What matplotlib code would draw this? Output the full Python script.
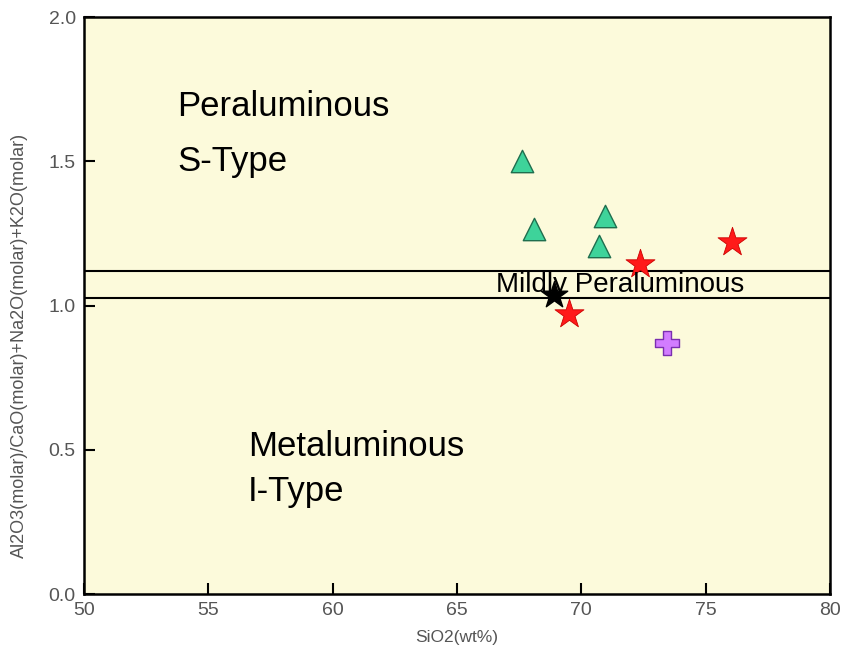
import matplotlib
matplotlib.use("Agg")
import matplotlib.pyplot as plt

# 分類境界 (A/CNK)
boundary_lower = 1.025
boundary_upper = 1.12

# 試料データ
tri_sio2 = [67.6, 68.1, 70.95, 70.7]
tri_acnk = [1.50, 1.265, 1.31, 1.205]

red_star_sio2 = [72.35, 76.05, 69.5]
red_star_acnk = [1.145, 1.22, 0.97]

black_star_sio2 = [68.9]
black_star_acnk = [1.035]

plus_sio2 = [73.45]
plus_acnk = [0.87]

x_ticks = [50, 55, 60, 65, 70, 75, 80]
y_ticks = [0.0, 0.5, 1.0, 1.5, 2.0]

plt.rcParams['font.family'] = ['Liberation Sans', 'DejaVu Sans']

fig = plt.figure(figsize=(8.41, 6.54), dpi=100)
ax = fig.add_axes([0.0999, 0.0917, 0.887, 0.8823])
ax.set_facecolor('#fcfadb')

# 境界線
ax.axhline(boundary_upper, color='black', lw=1.5, zorder=2)
ax.axhline(boundary_lower, color='black', lw=1.5, zorder=2)

ax.scatter(tri_sio2, tri_acnk, marker='^', s=260, c='#3ed39a',
           edgecolors='#1f6e4e', linewidths=1.0, zorder=3)
ax.scatter(red_star_sio2, red_star_acnk, marker='*', s=480, c='#ff1a1a',
           edgecolors='#cc0000', linewidths=0.6, zorder=3)
ax.scatter(black_star_sio2, black_star_acnk, marker='*', s=400, c='black',
           edgecolors='black', zorder=4)
ax.scatter(plus_sio2, plus_acnk, marker='P', s=320, c='#d27cff',
           edgecolors='#7a2fb0', linewidths=1.0, zorder=3)

# 領域ラベル
ax.text(53.75, 1.69, 'Peraluminous', fontsize=25, va='center', zorder=5)
ax.text(53.75, 1.5, 'S-Type', fontsize=25, va='center', zorder=5)
ax.text(56.6, 0.51, 'Metaluminous', fontsize=25, va='center', zorder=5)
ax.text(56.6, 0.355, 'I-Type', fontsize=25, va='center', zorder=5)
ax.text(71.55, 1.072, 'Mildly Peraluminous', fontsize=20, ha='center',
        va='center', zorder=5)

ax.set_xlim(50, 80)
ax.set_ylim(0, 2.0)
ax.set_xticks(x_ticks)
ax.set_yticks(y_ticks)
ax.set_yticklabels(['%.1f' % v for v in y_ticks])
ax.tick_params(direction='in', length=8, width=1.5, labelsize=14,
               labelcolor='#555555', pad=6)
for sp in ax.spines.values():
    sp.set_linewidth(1.8)

ax.set_xlabel('SiO2(wt%)', fontsize=12.5, color='#555555', labelpad=8)
ax.set_ylabel('Al2O3(molar)/CaO(molar)+Na2O(molar)+K2O(molar)', fontsize=13,
              color='#555555')
ax.yaxis.set_label_coords(-0.075, 0.43)

fig.savefig('out.png', dpi=100, facecolor='white')
